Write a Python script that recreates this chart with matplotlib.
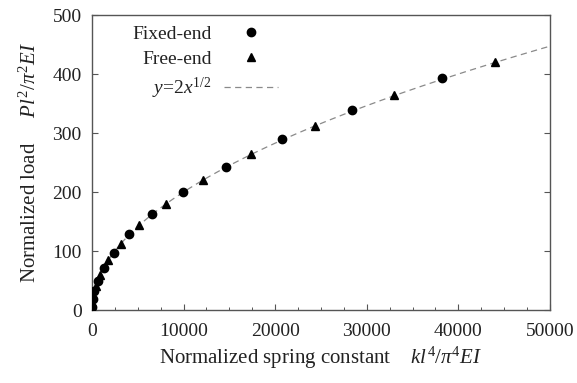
import numpy as np
import matplotlib.pyplot as plt
from matplotlib.ticker import MultipleLocator

# values
fixed_x = [5, 80, 250, 620, 1270, 2380, 4080, 6500, 9950, 14600, 20700, 28400, 38200]
fixed_y = [5.6, 18, 32, 50, 71, 97, 128, 162, 200, 242, 289, 339, 393]
free_x = [40, 150, 410, 920, 1800, 3160, 5180, 8100, 12100, 17400, 24300, 33000, 44000]
free_y = [12.5, 24.5, 40.5, 60, 85, 112, 143.5, 180, 220.5, 264, 312.5, 365, 421]

x_ticks = [0, 10000, 20000, 30000, 40000, 50000]
y_ticks = [0, 100, 200, 300, 400, 500]

plt.rcParams['font.family'] = ['Liberation Serif', 'DejaVu Serif']
plt.rcParams['mathtext.fontset'] = 'custom'
plt.rcParams['mathtext.rm'] = 'Liberation Serif'
plt.rcParams['mathtext.it'] = 'Liberation Serif:italic'

txt = '#222222'
spine = '#555555'

fig = plt.figure(figsize=(5.77, 3.83), dpi=100)
ax = fig.add_axes([0.1594, 0.1906, 0.7938, 0.7702])

# theory curve y = 2 x^(1/2)
xs = np.linspace(0, 50000, 600)
ax.plot(xs, 2 * np.sqrt(xs), color='#8a8a8a', lw=0.9, ls=(0, (5, 3.5)),
        label='$y$=2$x^{1/2}$', zorder=1)
ax.plot(fixed_x, fixed_y, 'o', color='black', ms=6, label='Fixed-end', zorder=3)
ax.plot(free_x, free_y, '^', color='black', ms=5.5, label='Free-end', zorder=3)

ax.set_xlim(0, 50000)
ax.set_ylim(0, 500)
ax.set_xticks(x_ticks)
ax.set_yticks(y_ticks)
ax.xaxis.set_minor_locator(MultipleLocator(2500))
ax.tick_params(which='both', direction='in', colors=spine, labelcolor=txt,
               labelsize=14, right=True, top=False)
ax.tick_params(which='major', length=4.5, width=0.8)
ax.tick_params(which='minor', length=2.5, width=0.7)
ax.tick_params(axis='x', which='major', pad=9)
ax.tick_params(axis='y', which='major', pad=7.5)
ax.tick_params(axis='y', which='minor', left=False, right=False)
for s in ax.spines.values():
    s.set_color(spine)
    s.set_linewidth(1.0)

ax.set_xlabel('Normalized spring constant    $kl^4/\\pi^4EI$', color=txt,
              fontsize=15, labelpad=4)
ax.set_ylabel('Normalized load     $Pl^2/\\pi^2EI$', color=txt,
              fontsize=15, labelpad=8)

h, l = ax.get_legend_handles_labels()
order = [1, 2, 0]
ax.legend([h[i] for i in order], [l[i] for i in order], loc='upper right',
          bbox_to_anchor=(0.406, 0.966), frameon=False, markerfirst=False,
          handlelength=2.75, handletextpad=0.67, labelspacing=0.40,
          borderpad=0, borderaxespad=0, fontsize=14, labelcolor=txt)

fig.savefig('out.png', dpi=100)
